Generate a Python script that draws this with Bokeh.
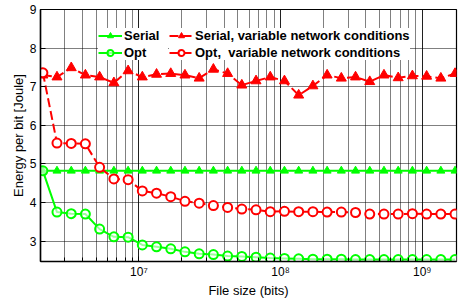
from bokeh.plotting import figure
from bokeh.models import Range1d, FixedTicker, LogTicker, Legend, LegendItem, Label
from bokeh.embed import file_html
from bokeh.resources import INLINE

# ---- data ----
file_size = [2.10e6, 2.64e6, 3.33e6, 4.19e6, 5.28e6, 6.66e6, 8.39e6, 1.057e7, 1.332e7, 1.678e7,
             2.114e7, 2.663e7, 3.355e7, 4.228e7, 5.326e7, 6.711e7, 8.455e7, 1.065e8, 1.342e8, 1.691e8,
             2.131e8, 2.684e8, 3.382e8, 4.261e8, 5.369e8, 6.764e8, 8.522e8, 1.074e9, 1.353e9, 1.704e9]

serial = [4.82] * 30

opt = [4.82, 3.75, 3.71, 3.70, 3.31, 3.11, 3.10, 2.90, 2.85, 2.80,
       2.72, 2.67, 2.65, 2.61, 2.60, 2.58, 2.56, 2.55, 2.54, 2.53,
       2.53, 2.53, 2.52, 2.52, 2.52, 2.52, 2.52, 2.52, 2.52, 2.52]

serial_var = [7.30, 7.25, 7.49, 7.30, 7.25, 7.10, 7.41, 7.25, 7.32, 7.34,
              7.30, 7.22, 7.45, 7.34, 7.04, 7.15, 7.25, 7.15, 6.78, 7.02,
              7.30, 7.22, 7.25, 7.13, 7.30, 7.23, 7.28, 7.27, 7.22, 7.34]

opt_var = [7.36, 5.54, 5.53, 5.52, 4.91, 4.61, 4.59, 4.30, 4.24, 4.15,
           4.03, 3.98, 3.92, 3.87, 3.83, 3.81, 3.76, 3.77, 3.76, 3.76,
           3.75, 3.75, 3.74, 3.70, 3.70, 3.70, 3.71, 3.70, 3.70, 3.70]

x_major_ticks = [1e7, 1e8, 1e9]
x_tick_labels = ["10\u2077", "10\u2078", "10\u2079"]
y_ticks = [3, 4, 5, 6, 7, 8, 9]

x_start, x_end = 2.02e6, 1.745e9
y_start, y_end = 2.47, 9.0

FONT = "Liberation Sans"
GREEN = "#00ff00"
RED = "#ff0000"

p = figure(width=466, height=302, x_axis_type="log",
           x_range=Range1d(x_start, x_end), y_range=Range1d(y_start, y_end),
           output_backend="svg", toolbar_location=None,
           min_border_left=40, min_border_right=10, min_border_top=9, min_border_bottom=41,
           background_fill_color="white", border_fill_color="white")

p.outline_line_color = "black"
p.outline_line_width = 1.2
p.outline_line_alpha = 1

# axes
p.xaxis.ticker = LogTicker(num_minor_ticks=10, mantissas=[1], desired_num_ticks=3)
p.xaxis.major_label_overrides = {t: l for t, l in zip(x_major_ticks, x_tick_labels)}
p.yaxis.ticker = FixedTicker(ticks=y_ticks, minor_ticks=[])
for ax in (p.xaxis[0], p.yaxis[0]):
    ax.axis_line_color = "black"
    ax.axis_line_width = 1.5
    ax.major_tick_in = 5
    ax.major_tick_out = 0
    ax.minor_tick_in = 4
    ax.minor_tick_out = 0
    ax.major_tick_line_color = "black"
    ax.minor_tick_line_color = "black"
    ax.major_label_text_font = FONT
    ax.major_label_text_font_size = "12px"
    ax.major_label_text_color = "black"
    ax.axis_label_text_font = FONT
    ax.axis_label_text_font_size = "13px"
    ax.axis_label_text_font_style = "normal"
    ax.axis_label_text_color = "black"

p.xaxis.axis_label = "File size (bits)"
p.xaxis.major_label_standoff = 3
p.xaxis.axis_label_standoff = 1
p.yaxis.axis_label = "Energy per bit [Joule]"
p.yaxis.major_label_standoff = 4
p.yaxis.axis_label_standoff = 1

# grid
for g in (p.xgrid[0], p.ygrid[0]):
    g.grid_line_color = "black"
    g.grid_line_dash = "1 1"
    g.grid_line_alpha = 1.0
    g.grid_line_width = 1
p.xgrid.minor_grid_line_color = "black"
p.xgrid.minor_grid_line_dash = "1 1"
p.xgrid.minor_grid_line_alpha = 1.0
p.xgrid.minor_grid_line_width = 1

# series
l1 = p.line(file_size, serial, line_color=GREEN, line_width=2)
m1 = p.scatter(file_size, serial, marker="triangle", size=8, fill_color=GREEN, line_color=GREEN, line_width=1)
l2 = p.line(file_size, opt, line_color=GREEN, line_width=2)
m2 = p.scatter(file_size, opt, marker="circle", size=9, fill_color="white", fill_alpha=0.6,
               line_color=GREEN, line_width=2)
l3 = p.line(file_size, serial_var, line_color=RED, line_width=2, line_dash="9 4")
m3 = p.scatter(file_size, serial_var, marker="triangle", size=10, fill_color=RED, line_color=RED, line_width=1)
l4 = p.line(file_size, opt_var, line_color=RED, line_width=2, line_dash="9 4")
m4 = p.scatter(file_size, opt_var, marker="circle", size=9, fill_color="white",
               line_color=RED, line_width=2)

def make_legend(items, loc, label_width):
    leg = Legend(items=items, location=loc, orientation="vertical",
                 background_fill_color="white", background_fill_alpha=1.0,
                 border_line_color=None, padding=3, spacing=2, margin=0,
                 glyph_width=24, glyph_height=15, label_height=15, label_width=label_width,
                 label_standoff=2, label_text_font=FONT, label_text_font_style="bold",
                 label_text_font_size="13px", label_text_color="black")
    return leg

leg1 = make_legend([LegendItem(label="Serial", renderers=[l1, m1]),
                    LegendItem(label="Opt", renderers=[l2, m2])], (58, 201), 44)
leg2 = make_legend([LegendItem(label="Serial, variable network conditions", renderers=[l3, m3]),
                    LegendItem(label="Opt,  variable network conditions", renderers=[l4, m4])], (129, 201), 20)
p.add_layout(leg1, "center")
p.add_layout(leg2, "center")

p.add_layout(Label(x=x_start, y=y_end, x_units="data", y_units="data", text="x 10",
                   x_offset=0, y_offset=5, text_baseline="alphabetic",
                   text_font=FONT, text_font_size="12px", text_color="black"))

open("out.html", "w").write(file_html(p, INLINE))
